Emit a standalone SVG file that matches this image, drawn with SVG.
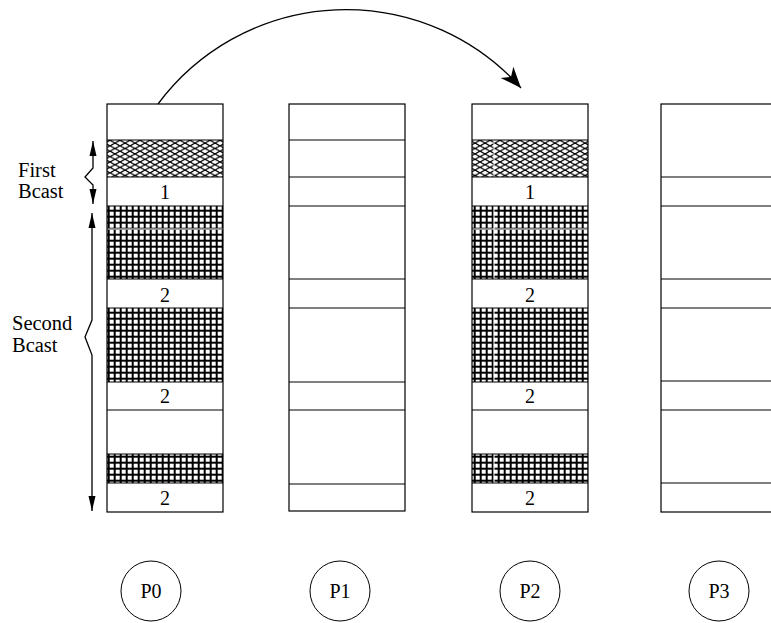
<svg xmlns="http://www.w3.org/2000/svg" width="771" height="623" viewBox="0 0 771 623">
<style>
.col{fill:none;stroke:#000;stroke-width:1.2}
.sep{stroke:#000;stroke-width:1.2}
.t{font-family:"Liberation Serif","Times New Roman",serif;font-size:20px;fill:#000}
.lab{font-family:"Liberation Serif","Times New Roman",serif;font-size:20.5px;fill:#000}
.circ{fill:none;stroke:#000;stroke-width:1}
.conn{fill:none;stroke:#000;stroke-width:1.3}
.gap{stroke:#fff;stroke-width:1}
</style>
<defs>
<pattern id="grid" width="6" height="6" patternUnits="userSpaceOnUse">
<rect width="6" height="6" fill="#000"/>
<rect x="1.7" y="1.7" width="4" height="4" fill="#fff"/>
</pattern>
<pattern id="cross" width="10" height="5.4" patternUnits="userSpaceOnUse">
<rect width="10" height="5.4" fill="#fff"/>
<path d="M0,0 L10,5.4 M0,5.4 L10,0" stroke="#000" stroke-width="1.2" fill="none"/>
</pattern>
<marker id="bigHead" markerUnits="userSpaceOnUse" markerWidth="26" markerHeight="18" refX="22" refY="9" orient="auto" viewBox="0 0 26 18">
<path d="M22,9 L1,0.5 L7,9 L1,17.5 Z" fill="#000"/>
</marker>
<marker id="smallHead" markerUnits="userSpaceOnUse" markerWidth="16" markerHeight="10" refX="15" refY="5" orient="auto-start-reverse" viewBox="0 0 16 10">
<path d="M15,5 L0,1.5 L0,8.5 Z" fill="#000"/>
</marker>
</defs>

<g id="P0-column">
<rect x="107" y="140" width="116" height="37" fill="url(#cross)"/>
<rect x="107" y="206" width="116" height="73" fill="url(#grid)"/>
<rect x="107" y="308" width="116" height="74" fill="url(#grid)"/>
<rect x="107" y="454" width="116" height="29" fill="url(#grid)"/>
<line class="gap" x1="107" y1="229" x2="223" y2="229"/>
<path class="sep" d="M107,140H223M107,177H223M107,206H223M107,279H223M107,308H223M107,382H223M107,410H223M107,454H223M107,483H223"/>
<rect class="col" x="107" y="104" width="116" height="408"/>
<text class="t" x="165" y="199" text-anchor="middle">1</text>
<text class="t" x="165" y="302" text-anchor="middle">2</text>
<text class="t" x="165" y="403" text-anchor="middle">2</text>
<text class="t" x="165" y="505" text-anchor="middle">2</text>
</g>

<g id="P1-column">
<path class="sep" d="M289,140H405M289,177H405M289,206H405M289,279H405M289,308H405M289,382H405M289,410H405M289,484H405"/>
<rect class="col" x="289" y="104" width="116" height="407"/>
</g>

<g id="P2-column">
<rect x="472" y="140" width="116" height="37" fill="url(#cross)"/>
<rect x="472" y="206" width="116" height="73" fill="url(#grid)"/>
<rect x="472" y="308" width="116" height="74" fill="url(#grid)"/>
<rect x="472" y="454" width="116" height="29" fill="url(#grid)"/>
<line class="gap" x1="472" y1="229" x2="588" y2="229"/>
<path class="gap" d="M494,140V177M494,206V279M494,308V382M494,454V483"/>
<path class="sep" d="M472,140H588M472,177H588M472,206H588M472,279H588M472,308H588M472,382H588M472,410H588M472,454H588M472,483H588"/>
<rect class="col" x="472" y="104" width="116" height="408"/>
<text class="t" x="530" y="199" text-anchor="middle">1</text>
<text class="t" x="530" y="302" text-anchor="middle">2</text>
<text class="t" x="530" y="403" text-anchor="middle">2</text>
<text class="t" x="530" y="505" text-anchor="middle">2</text>
</g>

<g id="P3-column">
<path class="sep" d="M661,177H771M661,206H771M661,279H771M661,308H771M661,381H771M661,410H771M661,483H771"/>
<rect class="col" x="661" y="104" width="116" height="408"/>
</g>

<g id="labels">
<text class="lab" x="18" y="177">First</text>
<text class="lab" x="18" y="198">Bcast</text>
<text class="lab" x="12" y="330">Second</text>
<text class="lab" x="12" y="352">Bcast</text>
</g>

<g id="P0"><circle class="circ" cx="151" cy="591" r="30"/><text class="t" x="151" y="598" text-anchor="middle">P0</text></g>
<g id="P1"><circle class="circ" cx="340" cy="591" r="30"/><text class="t" x="340" y="598" text-anchor="middle">P1</text></g>
<g id="P2"><circle class="circ" cx="530" cy="591" r="30"/><text class="t" x="530" y="598" text-anchor="middle">P2</text></g>
<g id="P3"><circle class="circ" cx="719" cy="591" r="30"/><text class="t" x="719" y="598" text-anchor="middle">P3</text></g>

<g id="connectors">
<path class="conn" d="M158,104 A234.4,234.4 0 0,1 521,88" marker-end="url(#bigHead)"/>
<path class="conn" d="M93,141 V168 L85,177 L93,185 V204" marker-start="url(#smallHead)" marker-end="url(#smallHead)"/>
<path class="conn" d="M92,213 V320 L85,337 L92,355 V511" marker-start="url(#smallHead)" marker-end="url(#smallHead)"/>
</g>
</svg>
